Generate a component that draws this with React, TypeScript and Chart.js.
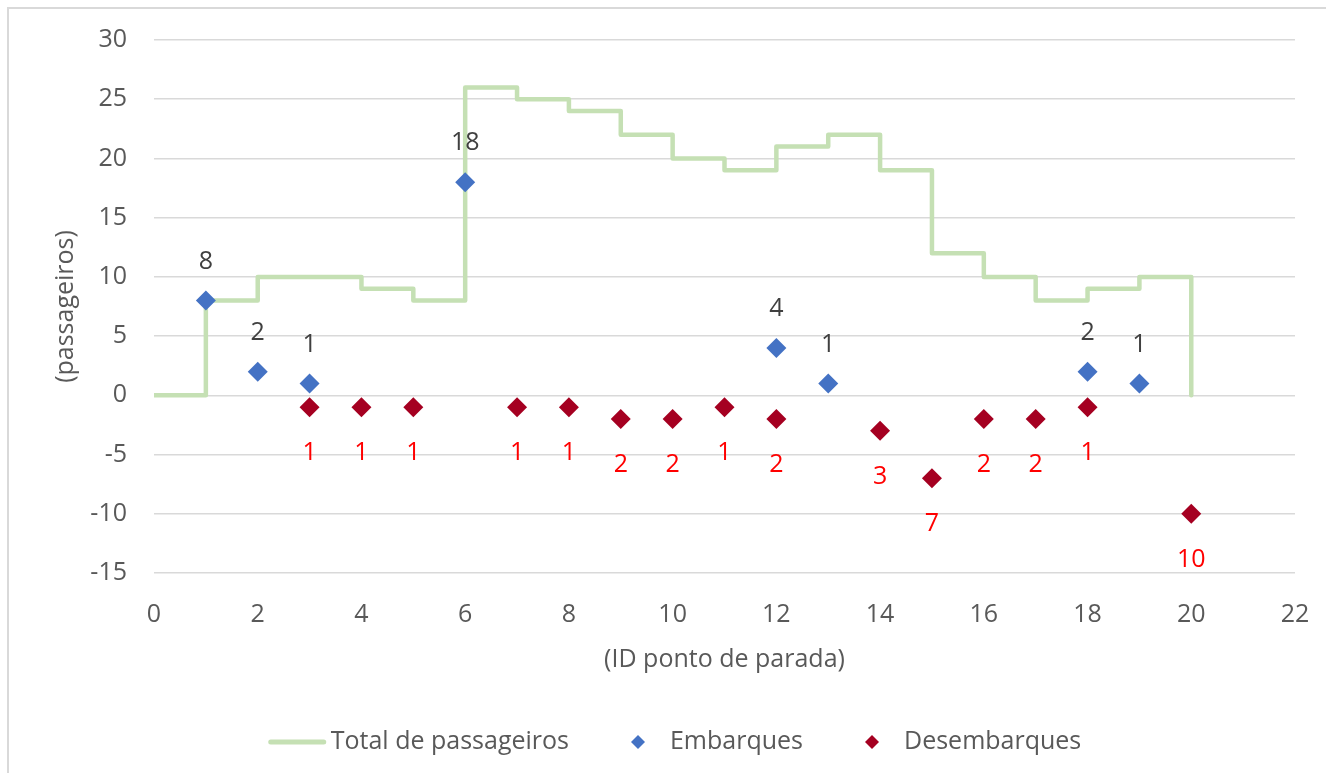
import React, { useEffect, useRef } from "react";
import { Chart, registerables } from "chart.js";

Chart.register(...registerables);

// ---- data ----
const stopIds = [0, 1, 2, 3, 4, 5, 6, 7, 8, 9, 10, 11, 12, 13, 14, 15, 16, 17, 18, 19, 20];
const totalPassageiros = [0, 8, 10, 10, 9, 8, 26, 25, 24, 22, 20, 19, 21, 22, 19, 12, 10, 8, 9, 10, 0];
const embarquesIds = [1, 2, 3, 6, 12, 13, 18, 19];
const embarquesValues = [8, 2, 1, 18, 4, 1, 2, 1];
const desembarquesIds = [3, 4, 5, 7, 8, 9, 10, 11, 12, 14, 15, 16, 17, 18, 20];
const desembarquesValues = [-1, -1, -1, -1, -1, -2, -2, -1, -2, -3, -7, -2, -2, -1, -10];
const xRange = [0, 22];
const xStep = 2;
const yRange = [-15, 30];
const yStep = 5;
const seriesNames = ["Total de passageiros", "Embarques", "Desembarques"];
const xTitle = "(ID ponto de parada)";
const yTitle = "(passageiros)";

const FONT = "'Open Sans', sans-serif";
const TEXT = "#595959";
const GREEN = "#C5E0B4";
const BLUE = "#4472C4";
const RED = "#A50021";

const CANVAS_W = 1316;
const CANVAS_H = 763;

const pointLabelPlugin = {
  id: "pointLabels",
  afterDatasetsDraw(chart: any, _args: any, opts: any) {
    const ctx = chart.ctx;
    const styles = opts.styles || {};
    ctx.save();
    ctx.font = `25px ${FONT}`;
    ctx.textAlign = "center";
    ctx.textBaseline = "middle";
    chart.data.datasets.forEach((ds: any, i: number) => {
      const st = styles[i];
      if (!st) return;
      const meta = chart.getDatasetMeta(i);
      meta.data.forEach((el: any, j: number) => {
        const v = ds.data[j].y;
        ctx.fillStyle = st.color;
        ctx.fillText(String(Math.abs(v)), el.x, el.y + st.offset);
      });
    });
    ctx.restore();
  },
};

const legendPlugin = {
  id: "customLegend",
  afterDraw(chart: any, _args: any, opts: any) {
    const ctx = chart.ctx;
    const ds = chart.data.datasets;
    ctx.save();
    ctx.font = `25px ${FONT}`;
    ctx.textBaseline = "middle";
    ctx.textAlign = "left";
    const lineLen = 57;
    const lineGap = 5;
    const r = 7;
    const markLead = 39;
    const itemGap = 62;
    const widths = ds.map((d: any) => ctx.measureText(d.label).width);
    const itemW = ds.map((d: any, i: number) =>
      (d.showLine ? lineLen + lineGap : markLead) + widths[i]
    );
    const total = itemW.reduce((a: number, b: number) => a + b, 0) + itemGap * (ds.length - 1);
    let x = chart.width / 2 + opts.shiftX - total / 2;
    const y = opts.y;
    ds.forEach((d: any, i: number) => {
      if (d.showLine) {
        ctx.strokeStyle = d.borderColor;
        ctx.lineWidth = 5;
        ctx.lineCap = "round";
        ctx.beginPath();
        ctx.moveTo(x + 2, y);
        ctx.lineTo(x + lineLen - 2, y);
        ctx.stroke();
        ctx.fillStyle = TEXT;
        ctx.fillText(d.label, x + lineLen + lineGap, y);
      } else {
        const cx = x + r;
        ctx.fillStyle = d.backgroundColor;
        ctx.beginPath();
        ctx.moveTo(cx - r, y);
        ctx.lineTo(cx, y - r);
        ctx.lineTo(cx + r, y);
        ctx.lineTo(cx, y + r);
        ctx.closePath();
        ctx.fill();
        ctx.fillStyle = TEXT;
        ctx.fillText(d.label, x + markLead, y);
      }
      x += itemW[i] + itemGap;
    });
    ctx.restore();
  },
};

export default function App() {
  const canvasRef = useRef<HTMLCanvasElement | null>(null);

  useEffect(() => {
    document.documentElement.style.overflow = "hidden";
    const canvas = canvasRef.current;
    if (!canvas) return;

    const chart = new Chart(canvas, {
      type: "scatter",
      data: {
        datasets: [
          {
            label: seriesNames[0],
            data: stopIds.map((id, i) => ({ x: id, y: totalPassageiros[i] })),
            showLine: true,
            stepped: true,
            borderColor: GREEN,
            backgroundColor: GREEN,
            borderWidth: 4.5,
            borderJoinStyle: "round",
            borderCapStyle: "round",
            pointRadius: 0,
            pointHoverRadius: 0,
            fill: false,
            order: 3,
          } as any,
          {
            label: seriesNames[1],
            data: embarquesIds.map((id, i) => ({ x: id, y: embarquesValues[i] })),
            showLine: false,
            pointStyle: "rectRot",
            pointRadius: 10,
            pointHoverRadius: 10,
            backgroundColor: BLUE,
            borderColor: BLUE,
            borderWidth: 0,
            order: 1,
          } as any,
          {
            label: seriesNames[2],
            data: desembarquesIds.map((id, i) => ({ x: id, y: desembarquesValues[i] })),
            showLine: false,
            pointStyle: "rectRot",
            pointRadius: 10,
            pointHoverRadius: 10,
            backgroundColor: RED,
            borderColor: RED,
            borderWidth: 0,
            order: 2,
          } as any,
        ],
      },
      options: {
        animation: false,
        responsive: false,
        events: [],
        layout: { padding: { top: 31, right: 30, bottom: 79, left: 0 } },
        plugins: {
          legend: { display: false },
          tooltip: { enabled: false },
          pointLabels: {
            styles: {
              1: { color: "#404040", offset: -39 },
              2: { color: "#FF0000", offset: 46 },
            },
          },
          customLegend: { y: 733, shiftX: 8 },
        } as any,
        scales: {
          x: {
            type: "linear",
            min: xRange[0],
            max: xRange[1],
            afterFit: (scale: any) => {
              scale.height = 120;
              scale.paddingLeft = 0;
              scale.paddingRight = 0;
            },
            ticks: {
              stepSize: xStep,
              color: TEXT,
              font: { family: FONT, size: 25 },
              padding: 27,
              maxRotation: 0,
            },
            grid: { display: false, drawTicks: false },
            border: { display: false },
            title: {
              display: true,
              text: xTitle,
              color: TEXT,
              font: { family: FONT, size: 25 },
              padding: { top: 0, bottom: 18 },
            },
          },
          y: {
            type: "linear",
            min: yRange[0],
            max: yRange[1],
            afterFit: (scale: any) => {
              scale.width = 145;
              scale.paddingTop = 0;
              scale.paddingBottom = 0;
            },
            ticks: {
              stepSize: yStep,
              color: TEXT,
              font: { family: FONT, size: 25 },
              padding: 27,
            },
            grid: { color: "#D9D9D9", lineWidth: 1.5, drawTicks: false },
            border: { display: false },
            title: {
              display: true,
              text: yTitle,
              color: TEXT,
              font: { family: FONT, size: 25 },
              padding: { top: 42, bottom: 0 },
            },
          },
        },
      } as any,
      plugins: [pointLabelPlugin, legendPlugin],
    });

    return () => {
      chart.destroy();
    };
  }, []);

  return (
    <div
      style={{
        position: "fixed",
        left: 7,
        top: 7,
        width: 1400,
        height: 900,
        border: "2px solid #D9D9D9",
        background: "#fff",
      }}
    >
      <canvas
        ref={canvasRef}
        width={CANVAS_W}
        height={CANVAS_H}
        style={{ display: "block", width: CANVAS_W, height: CANVAS_H }}
      />
    </div>
  );
}
